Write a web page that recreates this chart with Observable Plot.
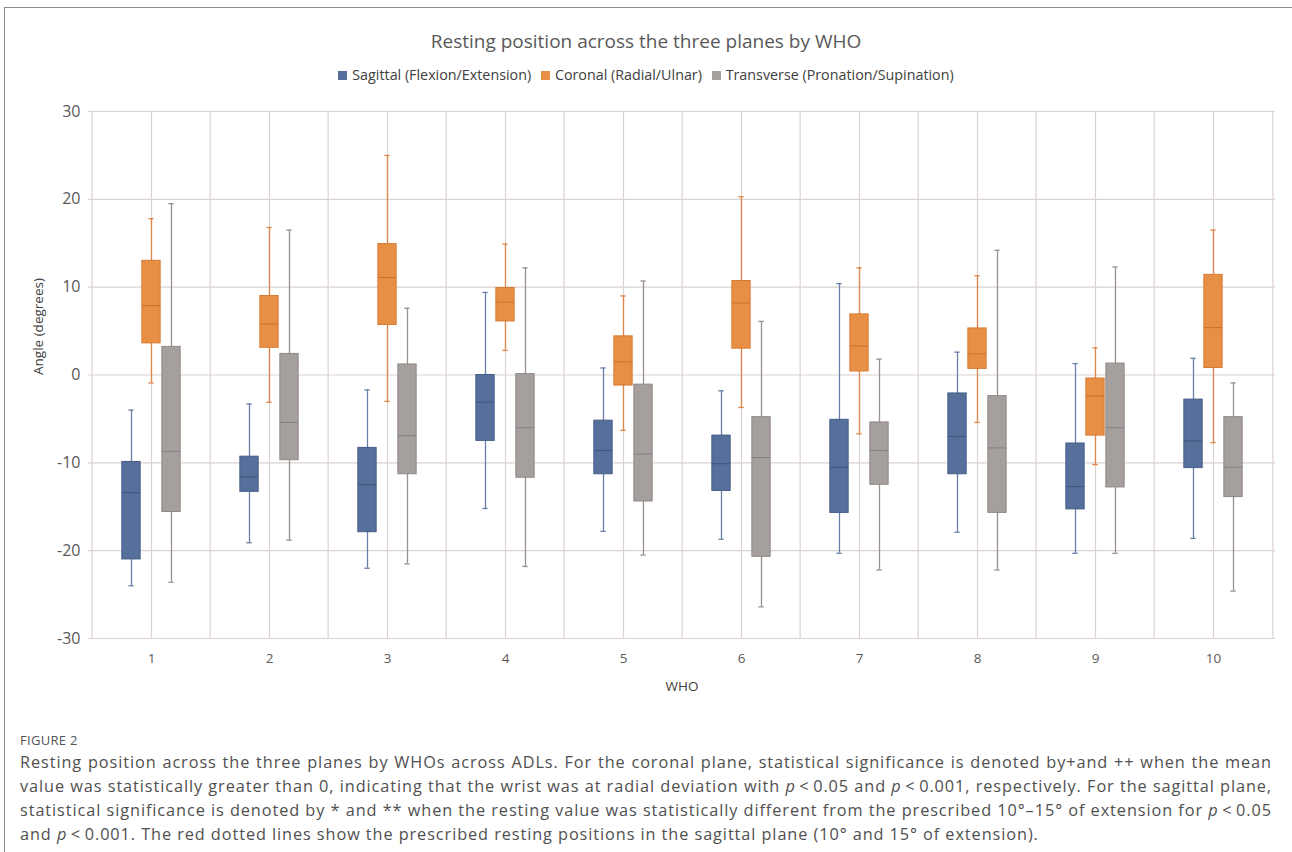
<!DOCTYPE html>
<html>
<head>
<meta charset="utf-8">
<script src="https://cdn.jsdelivr.net/npm/d3@7"></script>
<script src="https://cdn.jsdelivr.net/npm/@observablehq/plot@0.6"></script>
<style>
  html, body { margin: 0; padding: 0; background: #fff; }
  body { width: 1292px; height: 852px; position: relative; overflow: hidden; font-family: "Open Sans", sans-serif; }
  #frame { position: absolute; left: 4px; top: 7px; width: 1400px; height: 900px; border-top: 1px solid #8c8c8c; border-left: 1px solid #8c8c8c; }
  #title { position: absolute; top: 28px; left: 0; width: 1292px; text-align: center; font-size: 19px; color: #595959; }
  #legend { position: absolute; top: 65px; left: 0; width: 1292px; text-align: center; font-size: 14.3px; color: #404040; }
  #legend .item { display: inline-block; margin: 0 3px; }
  #legend .sw { display: inline-block; width: 9px; height: 9px; margin-right: 5px; vertical-align: 0px; }
  #chart { position: absolute; top: 100px; left: 0; }
  #fig { position: absolute; top: 731px; left: 20px; font-size: 13px; color: #555; letter-spacing: 0.3px; }
  #caption { position: absolute; top: 750px; left: 20px; width: 1252px; font-size: 16.3px; color: #505050; line-height: 24px; }
  #caption .ln { white-space: nowrap; text-align: left; text-align-last: left; }
  #caption.justified .ln { text-align: justify; text-align-last: justify; }
  #caption.justified .ln.last { text-align-last: left; }
</style>
</head>
<body>
<div id="frame"></div>
<div id="title"></div>
<div id="legend"></div>
<div id="chart"></div>
<div id="fig">FIGURE 2</div>
<div id="caption"></div>
<script>
// ---- data ----
const whos = ["1","2","3","4","5","6","7","8","9","10"];
const seriesNames = ["Sagittal (Flexion/Extension)", "Coronal (Radial/Ulnar)", "Transverse (Pronation/Supination)"];

const sagMin = [-24.0, -19.1, -22.0, -15.2, -17.8, -18.7, -20.3, -17.9, -20.3, -18.6];
const sagQ1  = [-21.0, -13.3, -17.9,  -7.5, -11.3, -13.2, -15.7, -11.3, -15.3, -10.6];
const sagMed = [-13.4, -11.6, -12.5,  -3.1,  -8.6, -10.1, -10.5,  -7.0, -12.7,  -7.5];
const sagQ3  = [ -9.9,  -9.3,  -8.3,   0.0,  -5.2,  -6.9,  -5.1,  -2.1,  -7.8,  -2.8];
const sagMax = [ -4.0,  -3.3,  -1.7,   9.4,   0.8,  -1.8,  10.4,   2.6,   1.3,   1.9];

const corMin = [-0.9, -3.1, -3.0,  2.8, -6.3, -3.7, -6.7, -5.4, -10.2, -7.7];
const corQ1  = [ 3.6,  3.1,  5.7,  6.1, -1.2,  3.0,  0.4,  0.7,  -6.9,  0.8];
const corMed = [ 7.9,  5.8, 11.1,  8.3,  1.5,  8.2,  3.3,  2.4,  -2.4,  5.4];
const corQ3  = [13.0,  9.0, 14.9,  9.9,  4.4, 10.7,  6.9,  5.3,  -0.4, 11.4];
const corMax = [17.8, 16.8, 25.0, 14.9,  9.0, 20.3, 12.2, 11.3,   3.1, 16.5];

const trMin = [-23.6, -18.8, -21.5, -21.8, -20.5, -26.4, -22.2, -22.2, -20.3, -24.6];
const trQ1  = [-15.6,  -9.7, -11.3, -11.7, -14.4, -20.7, -12.5, -15.7, -12.8, -13.9];
const trMed = [ -8.7,  -5.4,  -6.9,  -6.0,  -9.0,  -9.4,  -8.6,  -8.3,  -6.0, -10.5];
const trQ3  = [  3.2,   2.4,   1.2,   0.1,  -1.1,  -4.8,  -5.4,  -2.4,   1.3,  -4.8];
const trMax = [ 19.5,  16.5,   7.6,  12.2,  10.7,   6.1,   1.8,  14.2,  12.3,  -0.9];

const yTicks = [-30, -20, -10, 0, 10, 20, 30];

// ---- text ----
const titleText = "Resting position across the three planes by WHO";
const captionLines = [
  "Resting position across the three planes by WHOs across ADLs. For the coronal plane, statistical significance is denoted by+and ++ when the mean",
  "value was statistically greater than 0, indicating that the wrist was at radial deviation with <i>p</i>\u2009<\u20090.05 and <i>p</i>\u2009<\u20090.001, respectively. For the sagittal plane,",
  "statistical significance is denoted by * and ** when the resting value was statistically different from the prescribed 10°\u201315° of extension for <i>p</i>\u2009<\u20090.05",
  "and <i>p</i>\u2009<\u20090.001. The red dotted lines show the prescribed resting positions in the sagittal plane (10° and 15° of extension)."
];

// ---- styles ----
const styles = [
  {fill: "#56709b", stroke: "#445d88", whisk: "#6a7fa8", med: "#3e557e", dx: -20},
  {fill: "#e88f46", stroke: "#d67b33", whisk: "#e0854a", med: "#c9712d", dx: 0},
  {fill: "#a59f9d", stroke: "#8f8987", whisk: "#979190", med: "#858080", dx: 20}
];
const stats = [
  [sagMin, sagQ1, sagMed, sagQ3, sagMax],
  [corMin, corQ1, corMed, corQ3, corMax],
  [trMin, trQ1, trMed, trQ3, trMax]
];

document.getElementById("title").textContent = titleText;
document.getElementById("legend").innerHTML = seriesNames.map((n, i) =>
  `<span class="item"><span class="sw" style="background:${styles[i].fill}"></span>${n}</span>`).join(" ");
const cap = document.getElementById("caption");
cap.innerHTML = captionLines.map((l, i) =>
  `<div class="ln${i === captionLines.length - 1 ? " last" : ""}"><span>${l}</span></div>`).join("");

// fit letter-spacing (measured unjustified) so the widest line just fills the column
(function fitCaption() {
  const spans = [...cap.querySelectorAll(".ln span")];
  const widest = () => Math.max(...spans.map(s => s.getBoundingClientRect().width));
  let ls = 0;
  cap.style.letterSpacing = "0px";
  const w0 = widest();
  const nChars = Math.max(...captionLines.map(l => l.replace(/<[^>]+>/g, "").length));
  ls = Math.max(0, (1250 - w0) / nChars);
  cap.style.letterSpacing = ls + "px";
  while (widest() > 1250 && ls > 0) { ls -= 0.02; cap.style.letterSpacing = ls + "px"; }
  cap.classList.add("justified");
})();

const W = 1292, ML = 88, MR = 17, MT = 11, MB = 60, H = 598;
const bw = (W - ML - MR) / whos.length;
const boxW = 19, capW = 6;
const gridColor = "#dcd2cf";

const marks = [
  Plot.gridY(yTicks, {stroke: gridColor, strokeOpacity: 1, strokeWidth: 1.2}),
  Plot.gridX(whos, {stroke: gridColor, strokeOpacity: 1, strokeWidth: 1.2}),
  Plot.ruleX(whos, {x: d => d, dx: -bw / 2, stroke: gridColor, strokeWidth: 1.2}),
  Plot.ruleX(whos.slice(-1), {x: d => d, dx: bw / 2, stroke: gridColor, strokeWidth: 1.2}),
  Plot.ruleY([-30, 30], {stroke: gridColor, strokeWidth: 1.2})
];

stats.forEach((s, k) => {
  const st = styles[k];
  const rows = whos.map((w, i) => ({who: w, min: s[0][i], q1: s[1][i], med: s[2][i], q3: s[3][i], max: s[4][i]}));
  const boxInset = (bw - boxW) / 2, capInset = (bw - capW) / 2;
  marks.push(
    Plot.ruleX(rows, {x: "who", y1: "min", y2: "max", dx: st.dx, stroke: st.whisk, strokeWidth: 1.3}),
    Plot.tickY(rows, {x: "who", y: "min", dx: st.dx, insetLeft: capInset, insetRight: capInset, stroke: st.whisk, strokeWidth: 1.3}),
    Plot.tickY(rows, {x: "who", y: "max", dx: st.dx, insetLeft: capInset, insetRight: capInset, stroke: st.whisk, strokeWidth: 1.3}),
    Plot.barY(rows, {x: "who", y1: "q1", y2: "q3", dx: st.dx, insetLeft: boxInset, insetRight: boxInset, fill: st.fill, stroke: st.stroke, strokeWidth: 1}),
    Plot.tickY(rows, {x: "who", y: "med", dx: st.dx, insetLeft: boxInset, insetRight: boxInset, stroke: st.med, strokeWidth: 1})
  );
});

marks.push(
  Plot.axisY(yTicks, {tickSize: 0, tickPadding: 8, fontSize: 16, label: null, fill: "#595959", tickFormat: d => String(d)}),
  Plot.axisX(whos, {tickSize: 0, tickPadding: 15, fontSize: 13.5, label: null, fill: "#595959"}),
  Plot.text(["Angle (degrees)"], {frameAnchor: "left", rotate: -90, dx: -50, fontSize: 13.5, fill: "#404040"}),
  Plot.text(["WHO"], {frameAnchor: "bottom", dy: 52, fontSize: 13.5, fill: "#404040"})
);

const chart = Plot.plot({
  width: W, height: H,
  marginLeft: ML, marginRight: MR, marginTop: MT, marginBottom: MB,
  style: {fontFamily: "Open Sans, sans-serif", background: "transparent", color: "#595959"},
  x: {type: "band", domain: whos, padding: 0, axis: null},
  y: {domain: [-30, 30], axis: null},
  marks
});
document.getElementById("chart").appendChild(chart);
</script>
</body>
</html>
